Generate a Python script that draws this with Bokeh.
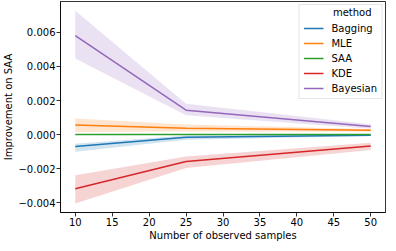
from bokeh.plotting import figure
from bokeh.models import Range1d, FixedTicker, CustomJSTickFormatter, Legend, LegendItem, Label
from bokeh.embed import file_html
from bokeh.resources import INLINE

samples = [10, 25, 50]
methods = ["Bagging", "MLE", "SAA", "KDE", "Bayesian"]
colors = ["#1f77b4", "#ff7f0e", "#2ca02c", "#d62728", "#9467bd"]

mean_vals = {
    "Bagging": [-0.00070, -0.00015, -0.00004],
    "MLE": [0.00057, 0.00038, 0.00025],
    "SAA": [0.0, 0.0, 0.0],
    "KDE": [-0.00318, -0.00158, -0.00067],
    "Bayesian": [0.00581, 0.00143, 0.00047],
}
low_vals = {
    "Bagging": [-0.00101, -0.00030, -0.00008],
    "MLE": [0.00015, 0.00018, 0.00017],
    "SAA": [0.0, 0.0, 0.0],
    "KDE": [-0.00404, -0.00196, -0.00091],
    "Bayesian": [0.00447, 0.00114, 0.00034],
}
high_vals = {
    "Bagging": [-0.00053, -0.00005, -0.00001],
    "MLE": [0.00095, 0.00060, 0.00033],
    "SAA": [0.0, 0.0, 0.0],
    "KDE": [-0.00238, -0.00128, -0.00048],
    "Bayesian": [0.00727, 0.00181, 0.00061],
}

x_ticks = [10, 15, 20, 25, 30, 35, 40, 45, 50]
y_ticks = [-0.004, -0.002, 0.0, 0.002, 0.004, 0.006]

FONT = "DejaVu Sans"

p = figure(width=388, height=243, output_backend="svg", toolbar_location=None,
           x_range=Range1d(8, 52), y_range=Range1d(-0.00457, 0.00781))
p.min_border_left = 10
p.min_border_right = 3
p.min_border_top = 1
p.min_border_bottom = 5
p.grid.visible = False
p.background_fill_color = "white"
p.border_fill_color = "white"
p.outline_line_color = "black"
p.outline_line_width = 0.8

p.xaxis.ticker = FixedTicker(ticks=x_ticks)
p.yaxis.ticker = FixedTicker(ticks=y_ticks)
p.yaxis.formatter = CustomJSTickFormatter(code="""
    if (Math.abs(tick) < 1e-12) { return "0.000"; }
    return tick.toFixed(3).replace("-", "\u2212");
""")
for ax in (p.xaxis, p.yaxis):
    ax.major_tick_out = 4
    ax.major_tick_in = 0
    ax.minor_tick_out = 0
    ax.minor_tick_in = 0
    ax.major_tick_line_width = 0.8
    ax.axis_line_width = 0.8
    ax.major_label_text_font = FONT
    ax.major_label_text_font_size = "10px"
    ax.major_label_text_color = "black"
    ax.axis_label_text_font = FONT
    ax.axis_label_text_font_size = "10px"
    ax.axis_label_text_font_style = "normal"
    ax.axis_label_text_color = "black"
    ax.major_label_standoff = 1
    ax.axis_label_standoff = 1
p.xaxis.axis_label = "Number of observed samples"
p.yaxis.axis_label = "Improvement on SAA"

items = []
for m, c in zip(methods, colors):
    p.varea(x=samples, y1=low_vals[m], y2=high_vals[m], fill_color=c, fill_alpha=0.2)
    r = p.line(x=samples, y=mean_vals[m], line_color=c, line_width=1.5)
    items.append(LegendItem(label=m, renderers=[r]))

legend = Legend(items=items, location="top_right", title="\u00a0")
legend.title_text_font = FONT
legend.title_text_font_size = "10px"
legend.title_text_font_style = "normal"
legend.title_standoff = 2
legend.label_text_font = FONT
legend.label_text_font_size = "10px"
legend.label_text_color = "black"
legend.label_height = 12
legend.label_standoff = 8
legend.glyph_width = 20
legend.glyph_height = 12
legend.spacing = 3
legend.padding = 4
legend.margin = 3
legend.border_line_color = "#cccccc"
legend.border_line_width = 1
legend.background_fill_alpha = 0.0
p.add_layout(legend)

p.add_layout(Label(x=47.5, y=0.00715, text="method", text_font=FONT, text_font_size="10px",
                   text_align="center", text_baseline="middle", text_color="black"))

open("out.html", "w").write(file_html(p, INLINE))
